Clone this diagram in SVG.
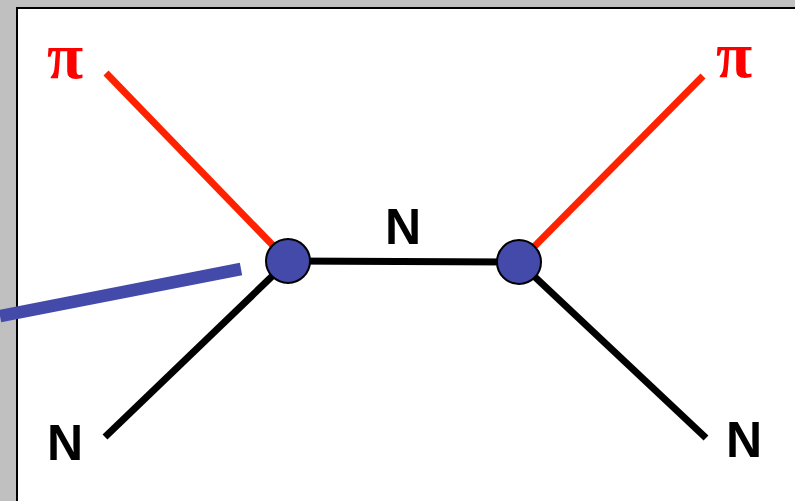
<svg xmlns="http://www.w3.org/2000/svg" width="795" height="501" viewBox="0 0 795 501">
<style>
.red{stroke:#FF2200;stroke-width:7;fill:none}
.blk{stroke:#000;stroke-width:7;fill:none}
.node{fill:#444AAA;stroke:#000;stroke-width:2}
.lbl{font-family:"Liberation Sans",Arial,sans-serif;font-weight:bold;font-size:50px;fill:#000}
.pi{font-family:"Liberation Serif","Times New Roman",serif;font-weight:bold;font-size:66px;fill:#FF0000}
</style>
<rect x="0" y="0" width="795" height="501" fill="#C0C0C0"/>
<rect x="17" y="8" width="790" height="500" fill="#FFFFFF" stroke="#000" stroke-width="2"/>
<g id="connectors">
<line class="red" x1="106" y1="73" x2="288" y2="261"/>
<line class="red" x1="703" y1="76" x2="519" y2="262"/>
<line class="blk" x1="105" y1="437" x2="288" y2="261"/>
<line class="blk" x1="706" y1="438" x2="519" y2="262"/>
<line class="blk" x1="288" y1="261" x2="519" y2="262"/>
<line x1="0" y1="316" x2="241" y2="269" stroke="#444AAA" stroke-width="12.5"/>
</g>
<g id="node1"><circle class="node" cx="288" cy="261" r="22"/></g>
<g id="node2"><circle class="node" cx="519" cy="262" r="22"/></g>
<g id="label-pi-left"><text class="pi" x="47" y="78">π</text></g>
<g id="label-pi-right"><text class="pi" x="716" y="77">π</text></g>
<g id="label-n-mid"><text class="lbl" x="385" y="244">N</text></g>
<g id="label-n-left"><text class="lbl" x="47" y="460">N</text></g>
<g id="label-n-right"><text class="lbl" x="726" y="457">N</text></g>
</svg>
